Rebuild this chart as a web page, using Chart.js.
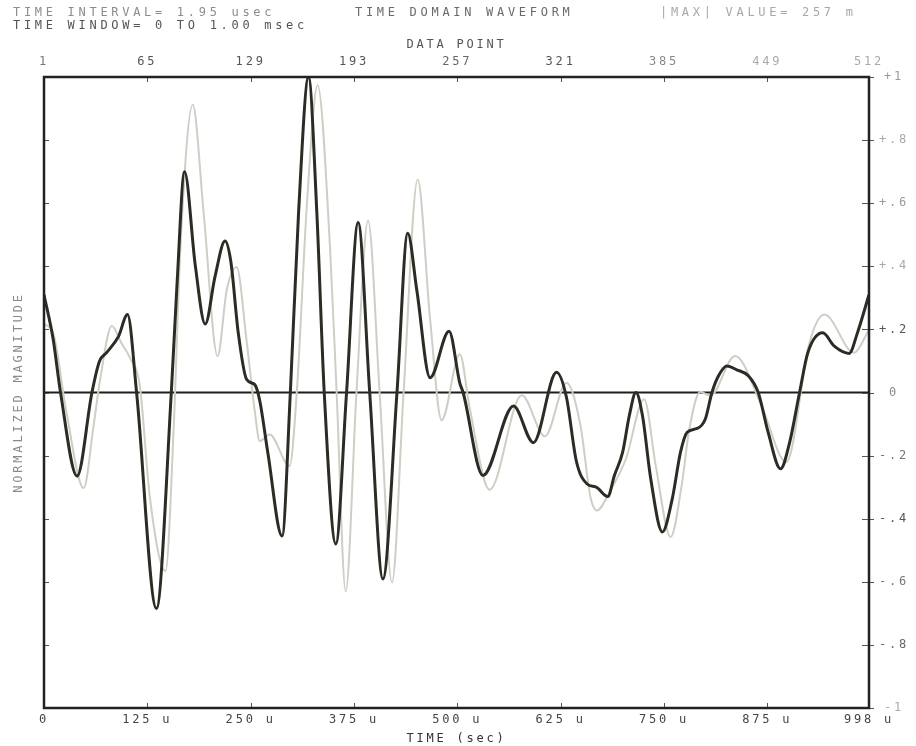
<!DOCTYPE html>
<html>
<head>
<meta charset="utf-8">
<script src="https://cdn.jsdelivr.net/npm/chart.js@4"></script>
<style>
  html, body { margin: 0; padding: 0; background: #fff; }
  canvas { display: block; }
</style>
</head>
<body>
<canvas id="waveform" width="916" height="746"></canvas>
<script>
// tick values
const timeTicks = [0, 125, 250, 375, 500, 625, 750, 875, 998];
const pointTicks = [1, 65, 129, 193, 257, 321, 385, 449, 512];
const magTicks = [-1, -0.8, -0.6, -0.4, -0.2, 0, 0.2, 0.4, 0.6, 0.8, 1];

// dark trace (time in usec)
const darkTime = [0, 11, 20, 40, 58, 67, 76, 90, 101, 112, 136, 154, 161, 170, 183, 195, 207, 219, 226, 235,
    245, 255, 261, 271, 288, 298, 308, 320, 330, 339, 353, 366, 380, 394, 410, 427, 440, 451, 467, 490,
    503, 507, 531, 568, 592, 620, 632, 644, 657, 668, 682, 690, 700, 708, 716, 724, 734, 748, 760, 770,
    778, 790, 800, 808, 816, 826, 838, 852, 864, 876, 891, 902, 914, 924, 942, 956, 974, 984, 998];
const darkMag = [0.31, 0.17, 0, -0.265, 0, 0.098, 0.127, 0.177, 0.247, 0, -0.685, 0, 0.347, 0.70, 0.403, 0.217, 0.369, 0.48, 0.415, 0.189,
    0.042, 0.025, -0.026, -0.195, -0.455, 0, 0.573, 1.0, 0.573, 0, -0.48, 0, 0.539, 0, -0.591, 0, 0.505, 0.324, 0.047, 0.194,
    0.03, 0, -0.263, -0.043, -0.159, 0.064, -0.015, -0.218, -0.29, -0.30, -0.33, -0.263, -0.189, -0.074, 0.0, -0.074, -0.274, -0.442, -0.337, -0.189,
    -0.126, -0.114, -0.084, 0, 0.053, 0.084, 0.072, 0.053, 0, -0.126, -0.242, -0.158, 0, 0.126, 0.189, 0.147, 0.124, 0.189, 0.31];

// light trace
const lightTime = [0, 11, 27, 48, 60, 68, 82, 94, 104, 116, 128, 147, 157, 165, 180, 193, 210, 221, 233, 245,
    255, 261, 273, 297, 306, 318, 331, 346, 354, 365, 378, 392, 406, 421, 435, 452, 467, 481, 503, 515,
    539, 578, 606, 632, 649, 661, 669, 684, 704, 726, 740, 758, 772, 780, 794, 806, 836, 868, 898, 926,
    944, 980, 994, 998];
const lightMag = [0.217, 0.189, -0.06, -0.303, -0.105, 0.042, 0.211, 0.155, 0.11, 0.019, -0.331, -0.566, -0.105, 0.46, 0.912, 0.573, 0.115, 0.324, 0.398, 0.166,
    -0.06, -0.154, -0.133, -0.233, 0.008, 0.595, 0.974, 0.46, 0, -0.631, 0, 0.545, 0, -0.602, 0, 0.675, 0.234, -0.088, 0.121, -0.05,
    -0.308, -0.009, -0.139, 0.031, -0.105, -0.331, -0.374, -0.316, -0.21, -0.021, -0.232, -0.458, -0.284, -0.126, 0.002, -0.01, 0.116, -0.042, -0.221, 0.158,
    0.247, 0.126, 0.179, 0.2];

const topTickColors = ['#777', '#555', '#555', '#555', '#666', '#555', '#888', '#aaa', '#aaa'];
const rightTickColors = ['#aaa', '#666', '#777', '#555', '#777', '#888', '#555', '#aaa', '#999', '#aaa', '#999'];

const monoFont = { family: 'DejaVu Sans Mono', size: 12 };

function magLabel(v) {
    const r = Math.round(v * 10) / 10;
    if (r === 0) return '0';
    const s = Math.abs(r) === 1 ? '1' : String(Math.abs(r)).slice(1);
    return (r > 0 ? '+' : '-') + s;
}

const spacing = {
    id: 'spacing',
    beforeUpdate(chart) { chart.ctx.letterSpacing = '2.8px'; },
    beforeDraw(chart) { chart.ctx.letterSpacing = '2.8px'; }
};

const frame = {
    id: 'frame',
    beforeDatasetsDraw(chart) {
        const { ctx, chartArea: a, scales } = chart;
        const y0 = scales.y.getPixelForValue(0);
        ctx.save();
        ctx.strokeStyle = '#1e1e1e';
        ctx.lineWidth = 2;
        ctx.beginPath();
        ctx.moveTo(a.left, y0);
        ctx.lineTo(a.right, y0);
        ctx.stroke();
        ctx.restore();
    },
    afterDatasetsDraw(chart) {
        const { ctx, chartArea: a, scales } = chart;
        ctx.save();
        ctx.strokeStyle = '#555';
        ctx.lineWidth = 1;
        ctx.beginPath();
        timeTicks.slice(1, -1).forEach(v => {
            const x = Math.round(scales.x.getPixelForValue(v)) + 0.5;
            ctx.moveTo(x, a.bottom);
            ctx.lineTo(x, a.bottom - 5);
        });
        pointTicks.slice(1, -1).forEach(v => {
            const x = Math.round(scales.x2.getPixelForValue(v)) + 0.5;
            ctx.moveTo(x, a.top);
            ctx.lineTo(x, a.top + 5);
        });
        magTicks.forEach(v => {
            const y = Math.round(scales.y.getPixelForValue(v)) + 0.5;
            ctx.moveTo(a.left, y);
            ctx.lineTo(a.left + 5, y);
            ctx.moveTo(a.right - 7, y);
            ctx.lineTo(a.right + 5, y);
        });
        ctx.stroke();

        ctx.strokeStyle = '#222';
        ctx.lineWidth = 2.5;
        ctx.strokeRect(a.left, a.top, a.right - a.left, a.bottom - a.top);
        ctx.restore();
    }
};

const header = {
    id: 'header',
    afterDraw(chart) {
        const ctx = chart.ctx;
        ctx.save();
        ctx.font = '12px "DejaVu Sans Mono"';
        ctx.letterSpacing = '3.7px';
        ctx.textBaseline = 'middle';
        ctx.textAlign = 'left';
        ctx.fillStyle = '#8c8c8c';
        ctx.fillText('TIME INTERVAL= 1.95 usec', 13, 13);
        ctx.fillStyle = '#555';
        ctx.fillText('TIME WINDOW= 0 TO 1.00 msec', 13, 26);
        ctx.fillStyle = '#6a6a6a';
        ctx.fillText('TIME DOMAIN WAVEFORM', 355, 13);
        ctx.fillStyle = '#a8a8a8';
        ctx.fillText('|MAX| VALUE= 257 m', 660, 13);
        ctx.restore();
    }
};

new Chart(document.getElementById('waveform'), {
    type: 'line',
    data: {
        datasets: [
            {
                label: 'dark',
                data: darkTime.map((t, i) => ({ x: t, y: darkMag[i] })),
                borderColor: '#2c2c25',
                borderWidth: 3,
                pointRadius: 0,
                cubicInterpolationMode: 'monotone',
                xAxisID: 'x',
                yAxisID: 'y'
            },
            {
                label: 'light',
                data: lightTime.map((t, i) => ({ x: t, y: lightMag[i] })),
                borderColor: '#cdcec4',
                borderWidth: 2,
                pointRadius: 0,
                cubicInterpolationMode: 'monotone',
                xAxisID: 'x',
                yAxisID: 'y'
            }
        ]
    },
    options: {
        responsive: false,
        animation: false,
        devicePixelRatio: 1,
        layout: { padding: { top: 33, left: 0, right: 0, bottom: 0 } },
        plugins: { legend: { display: false }, tooltip: { enabled: false } },
        scales: {
            x: {
                type: 'linear',
                position: 'bottom',
                min: 0,
                max: 998,
                afterBuildTicks: s => { s.ticks = timeTicks.map(v => ({ value: v })); },
                afterFit: s => { s.height = 38; },
                grid: { display: false, drawTicks: false },
                border: { display: false },
                ticks: {
                    autoSkip: false,
                    maxRotation: 0,
                    padding: 5,
                    color: '#444',
                    font: monoFont,
                    callback: v => v === 0 ? '0' : v + ' u'
                },
                title: {
                    display: true,
                    text: 'TIME (sec)',
                    color: '#333',
                    font: monoFont,
                    padding: { top: 0, bottom: 0 }
                }
            },
            x2: {
                type: 'linear',
                position: 'top',
                min: 1,
                max: 512,
                afterBuildTicks: s => { s.ticks = pointTicks.map(v => ({ value: v })); },
                afterFit: s => { s.height = 44; },
                grid: { display: false, drawTicks: false },
                border: { display: false },
                ticks: {
                    autoSkip: false,
                    maxRotation: 0,
                    padding: 8,
                    color: c => topTickColors[c.index],
                    font: monoFont,
                    callback: v => String(v)
                },
                title: {
                    display: true,
                    text: 'DATA POINT',
                    color: '#555',
                    font: monoFont,
                    padding: { top: 5, bottom: 0 }
                }
            },
            y: {
                type: 'linear',
                position: 'right',
                min: -1,
                max: 1,
                afterBuildTicks: s => { s.ticks = magTicks.map(v => ({ value: v })); },
                afterFit: s => { s.width = 47; },
                grid: { display: false, drawTicks: false },
                border: { display: false },
                ticks: {
                    crossAlign: 'center',
                    padding: 10,
                    color: c => rightTickColors[c.index],
                    font: monoFont,
                    callback: magLabel
                }
            },
            yL: {
                type: 'linear',
                position: 'left',
                min: -1,
                max: 1,
                afterFit: s => { s.width = 44; },
                grid: { display: false, drawTicks: false },
                border: { display: false },
                ticks: { display: false },
                title: {
                    display: true,
                    text: 'NORMALIZED MAGNITUDE',
                    color: '#8a8a8a',
                    font: monoFont,
                    padding: { top: 12, bottom: 0 }
                }
            }
        }
    },
    plugins: [spacing, frame, header]
});
</script>
</body>
</html>
